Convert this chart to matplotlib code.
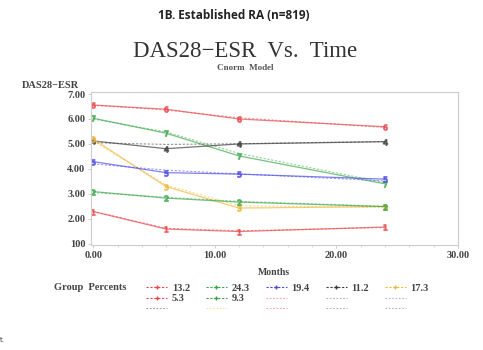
import numpy as np
import matplotlib
matplotlib.use('Agg')
import matplotlib.pyplot as plt
from matplotlib.lines import Line2D

# months of follow-up
months = [0, 6, 12, 24]

red_hi = [6.56, 6.39, 6.00, 5.69]
green_hi = [6.03, 5.43, 4.52, 3.40]
black = [5.12, 4.81, 5.00, 5.09]
yellow = [5.19, 3.29, 2.43, 2.49]
blue = [4.29, 3.85, 3.79, 3.59]
green_lo = [3.09, 2.83, 2.67, 2.49]
red_lo = [2.29, 1.59, 1.49, 1.67]

# model estimates (dashed), nearly on top of the observed
red_hi_fit = [6.55, 6.36, 6.05, 5.66]
green_hi_fit = [6.00, 5.48, 4.62, 3.45]
black_fit = [5.05, 4.98, 5.01, 5.10]
yellow_fit = [5.12, 3.35, 2.52, 2.46]
blue_fit = [4.20, 3.95, 3.80, 3.52]
green_lo_fit = [3.05, 2.86, 2.70, 2.50]
red_lo_fit = [2.30, 1.62, 1.52, 1.65]

series = [
    (red_hi, red_hi_fit, '#e8474c', '6'),
    (green_hi, green_hi_fit, '#3aa84a', '7'),
    (black, black_fit, '#3a3a3a', '4'),
    (yellow, yellow_fit, '#f0b73a', '3'),
    (blue, blue_fit, '#4a4ae6', '5'),
    (green_lo, green_lo_fit, '#3aa84a', '2'),
    (red_lo, red_lo_fit, '#e8474c', '1'),
]

# legend entries
grp_pct = ['13.2', '5.3', '24.3', '9.3', '19.4', '11.2', '17.3']
grp_col = ['#e8474c', '#e8474c', '#3aa84a', '#3aa84a', '#4a4ae6', '#3a3a3a', '#f0b73a']

x_ticks = [0, 10, 20, 30]
x_labels = ['0.00', '10.00', '20.00', '30.00']
y_ticks = [1, 2, 3, 4, 5, 6, 7]
y_labels = ['100', '2.00', '3.00', '4.00', '5.00', '6.00', '7.00']

serif = 'Liberation Serif'

fig = plt.figure(figsize=(4.83, 3.5), dpi=100)
ax = fig.add_axes([0.188, 0.30, 0.760, 0.437])

for obs, fit, col, mk in series:
    ax.plot(months, obs, color=col, lw=0.9, marker='$' + mk + '$', ms=4, alpha=0.7)
    ax.plot(months, fit, color=col, lw=0.8, ls=(0, (2, 1.5)), alpha=0.55)

ax.set_xlim(-0.2, 30)
ax.set_ylim(0.95, 7.08)
ax.set_xticks(x_ticks)
ax.set_xticklabels(x_labels, fontfamily=serif, fontsize=7.5, fontweight='bold', color='#444444')
ax.set_xticks(np.arange(0, 31, 2), minor=True)
ax.set_yticks(y_ticks)
ax.set_yticklabels(y_labels, fontfamily=serif, fontsize=7.5, fontweight='bold', color='#444444')
ax.tick_params(length=2, width=0.5, color='#bbbbbb', pad=2)
ax.tick_params(which='minor', length=1.5, width=0.4, color='#bbbbbb')
for sp in ax.spines.values():
    sp.set_color('#cccccc')
    sp.set_linewidth(0.8)

fig.text(0.483, 0.957, '1B. Established RA (n=819)', ha='center', va='center',
         fontfamily='Open Sans', fontweight='bold', fontsize=8.5, color='#222222')
fig.text(0.507, 0.852, 'DAS28\u2212ESR  Vs.  Time', ha='center', va='center',
         fontfamily=serif, fontsize=16.5, color='#333333')
fig.text(0.507, 0.805, 'Cnorm  Model', ha='center', va='center',
         fontfamily=serif, fontsize=6.5, fontweight='bold', color='#555555')
fig.text(0.045, 0.757, 'DAS28\u2212ESR', ha='left', va='center',
         fontfamily=serif, fontsize=7.5, fontweight='bold', color='#444444')
fig.text(0.566, 0.222, 'Months', ha='center', va='center',
         fontfamily=serif, fontsize=7, fontweight='bold', color='#444444')
fig.text(0.112, 0.178, 'Group  Percents', ha='left', va='center',
         fontfamily=serif, fontsize=7.5, fontweight='bold', color='#444444')
fig.text(0.0, 0.03, 't.', ha='left', va='center', fontsize=5, color='#333333')

# legend: solid groups with percents, dashed model lines unlabeled
fit_col = ['#999999', '#f3e6a0', '#f0a0b0', '#b0b0b0', '#b0b0ee']
handles = []
labels = []
cols = [[0, 1], [2, 3], [4], [5], [6]]
for ci, idx in enumerate(cols):
    for i in idx:
        handles.append(Line2D([], [], color=grp_col[i], lw=0.8, ls=(0, (2, 1.5)), marker='+', ms=3))
        labels.append(grp_pct[i])
    extra = 3 - len(idx)
    for k in range(extra):
        handles.append(Line2D([], [], color=fit_col[ci], lw=0.8, ls=(0, (1.5, 1.5))))
        labels.append('    ')
leg = fig.legend(handles, labels, ncol=5, loc='upper left', bbox_to_anchor=(0.292, 0.205),
                 frameon=False, handlelength=2.0, handletextpad=0.45, columnspacing=1.55,
                 labelspacing=0.12, borderpad=0,
                 prop={'family': serif, 'size': 7.5, 'weight': 'bold'})
for t in leg.get_texts():
    t.set_color('#444444')

fig.savefig('out.png', dpi=100)
